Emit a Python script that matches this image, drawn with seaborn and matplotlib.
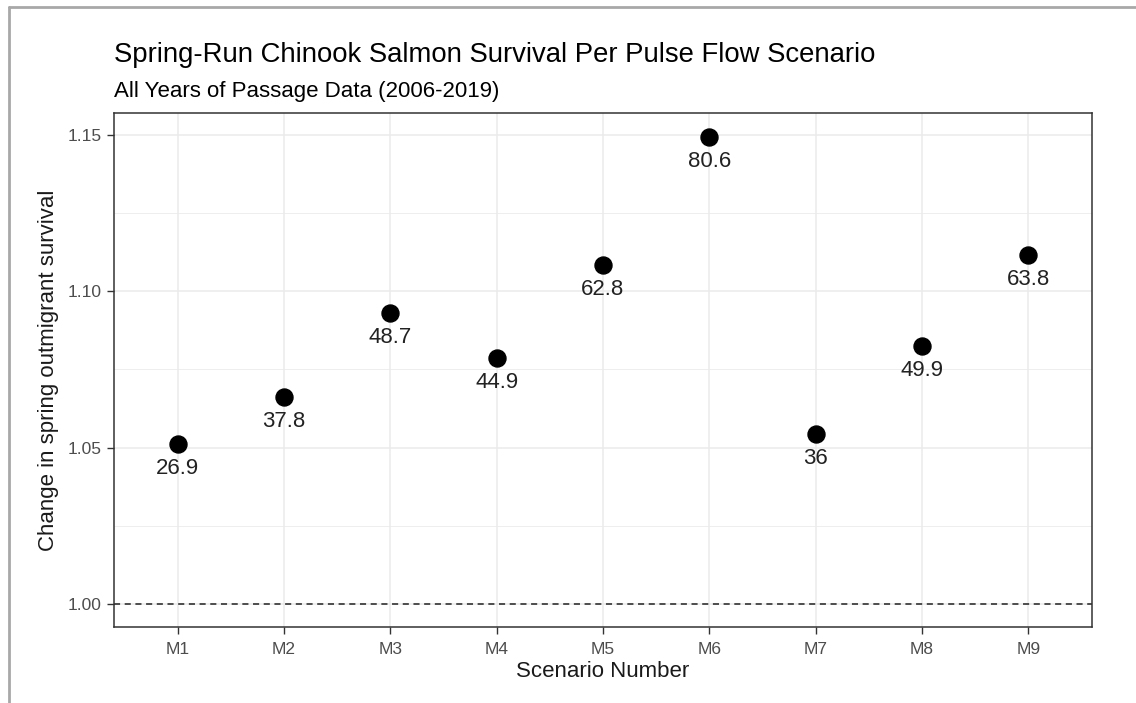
import numpy as np
import pandas as pd
import matplotlib.pyplot as plt
import seaborn as sns
from matplotlib.lines import Line2D
from matplotlib.ticker import MultipleLocator

# dati
scenari = ["M1", "M2", "M3", "M4", "M5", "M6", "M7", "M8", "M9"]
sopravvivenza = [1.0512, 1.0662, 1.0931, 1.0787, 1.1084, 1.1494, 1.0544, 1.0825, 1.1116]
etichette = ["26.9", "37.8", "48.7", "44.9", "62.8", "80.6", "36", "49.9", "63.8"]

df = pd.DataFrame({"scenario": scenari, "surv": sopravvivenza, "lab": etichette})

sns.set_theme(style="white")
plt.rcParams['font.family'] = ['Liberation Sans', 'DejaVu Sans']

fig = plt.figure(figsize=(11.36, 7.03), dpi=100)
W, H = 1136, 703
ax = fig.add_axes([114 / W, 1 - 627 / H, (1092 - 114) / W, (627 - 113) / H])

# cornice grigia dello screenshot
fig.add_artist(Line2D([9 / W, 9 / W], [0, 1 - 7 / H], color="#a8a8a8", lw=2, transform=fig.transFigure))
fig.add_artist(Line2D([9 / W, 1], [1 - 7 / H, 1 - 7 / H], color="#a8a8a8", lw=2, transform=fig.transFigure))

sns.scatterplot(data=df, x="scenario", y="surv", color="black", s=150, edgecolor="black", ax=ax, zorder=3)
for i, row in df.iterrows():
    ax.text(i, row["surv"] - 0.0078, row["lab"], ha="center", va="center", fontsize=16, color="#222222", zorder=4)

ax.axhline(1.0, color="#222222", ls=(0, (4, 3)), lw=1.1, zorder=2)

ax.set_xlim(-0.6, 8.6)
ax.set_ylim(0.9926, 1.157)
ax.yaxis.set_major_locator(MultipleLocator(0.05))
ax.yaxis.set_minor_locator(MultipleLocator(0.025))
ax.set_yticks([1.00, 1.05, 1.10, 1.15])
ax.set_yticklabels(["1.00", "1.05", "1.10", "1.15"])
ax.grid(True, which="major", color="#ebebeb", lw=1.1, zorder=0)
ax.grid(True, which="minor", axis="y", color="#ebebeb", lw=0.6, zorder=0)
ax.set_axisbelow(True)

for s in ax.spines.values():
    s.set_color("#333333")
    s.set_linewidth(1.1)
ax.tick_params(axis="both", which="major", length=5, width=1, color="#333333",
               labelsize=12.5, labelcolor="#4d4d4d", bottom=True, left=True, pad=4)
ax.tick_params(axis="x", which="major", pad=6)
ax.tick_params(axis="y", which="minor", length=0)

ax.set_xlabel("Scenario Number", fontsize=16, color="#1a1a1a", labelpad=3)
ax.set_ylabel("Change in spring outmigrant survival", fontsize=16, color="#1a1a1a", labelpad=6)

fig.text(114 / W, 1 - 55 / H, "Spring-Run Chinook Salmon Survival Per Pulse Flow Scenario",
         fontsize=19.8, ha="left", va="center", color="black")
fig.text(114 / W, 1 - 91 / H, "All Years of Passage Data (2006-2019)",
         fontsize=16, ha="left", va="center", color="black")

fig.savefig("out.png", dpi=100)
